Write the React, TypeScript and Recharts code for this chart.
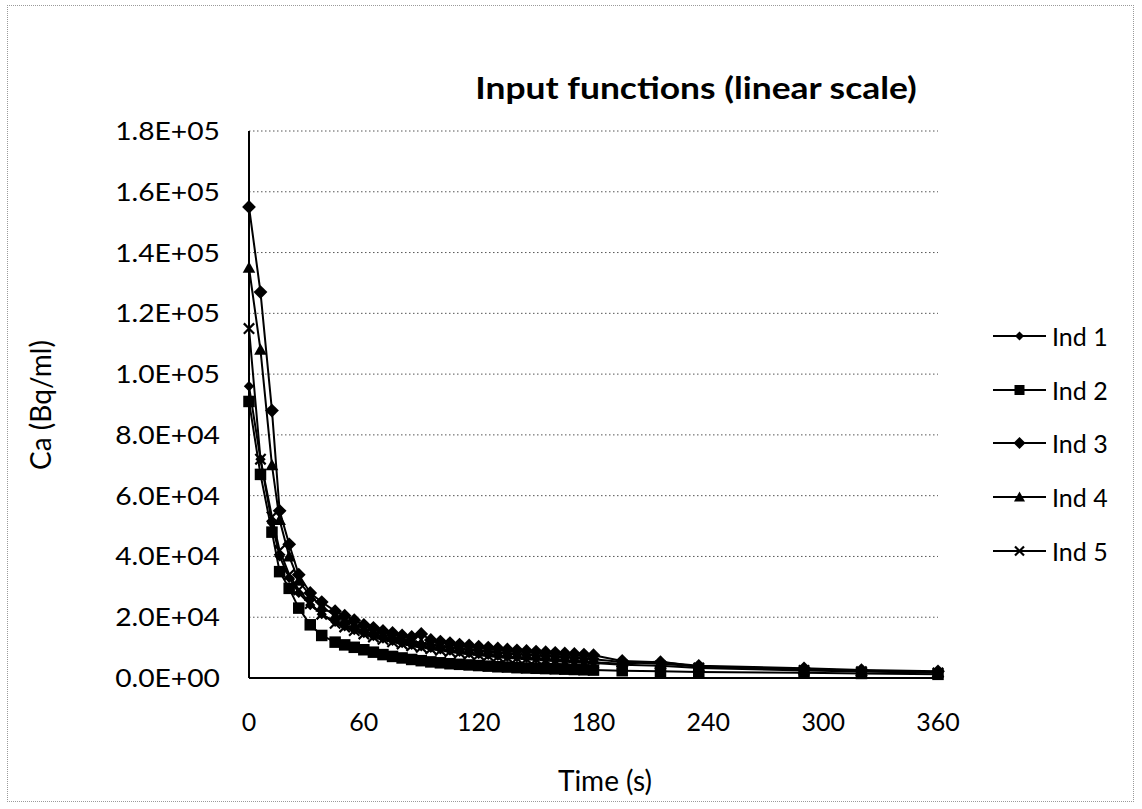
import React from 'react';
import { LineChart, Line, XAxis, YAxis, CartesianGrid } from 'recharts';

// Time points (s)
const times = [0, 6, 12, 16, 21, 26, 32, 38, 45, 50, 55, 60, 65, 70, 75, 80, 85, 90, 95, 100, 105, 110, 115, 120, 125, 130, 135, 140, 145, 150, 155, 160, 165, 170, 175, 180, 195, 215, 235, 290, 320, 360];

// Activity concentration, in thousands of Bq/ml
const ind1 = [96, 72, 51, 40, 33, 28, 24, 21, 18.5, 17, 15.8, 14.8, 13.8, 13, 12.2, 11.5, 10.9, 10.4, 9.9, 9.4, 9.0, 8.6, 8.2, 7.9, 7.6, 7.3, 7.0, 6.8, 6.6, 6.4, 6.2, 6.0, 5.8, 5.6, 5.4, 5.2, 4.7, 5.4, 3.6, 2.8, 2.3, 1.9];
const ind2 = [91, 67, 48, 35, 29.5, 23, 17.5, 14, 11.8, 10.9, 10.1, 9.3, 8.5, 7.7, 7.1, 6.6, 6.1, 5.7, 5.3, 5.0, 4.7, 4.5, 4.3, 4.1, 3.9, 3.7, 3.6, 3.4, 3.3, 3.2, 3.1, 3.0, 2.9, 2.8, 2.7, 2.6, 2.4, 2.2, 2.0, 1.7, 1.5, 1.2];
const ind3 = [155, 127, 88, 55, 44, 34, 28, 25, 22, 20.5, 19, 17.5, 16.5, 15.5, 14.8, 14, 13.5, 14.5, 12.5, 12, 11.5, 11, 10.7, 10.3, 10, 9.7, 9.4, 9.1, 8.9, 8.7, 8.5, 8.3, 8.1, 7.9, 7.7, 7.5, 5.6, 5.2, 4.0, 3.2, 2.6, 2.2];
const ind4 = [135, 108, 70, 52, 40, 32, 27, 23.5, 20.5, 19, 17.5, 16.3, 15.2, 14.3, 13.5, 12.8, 12.2, 11.6, 11.1, 10.6, 10.1, 9.7, 9.3, 9.0, 8.7, 8.4, 8.1, 7.8, 7.6, 7.4, 7.2, 7.0, 6.8, 6.6, 6.4, 6.2, 5.3, 4.7, 3.8, 3.0, 2.4, 2.0];
const ind5 = [115, 72, 53, 42, 34, 29, 24.5, 21, 18, 16.8, 15.6, 14.5, 13.5, 12.7, 11.9, 11.2, 10.6, 10.1, 9.6, 9.1, 8.7, 8.3, 7.9, 7.6, 7.3, 7.0, 6.7, 6.5, 6.3, 6.1, 5.9, 5.7, 5.5, 5.3, 5.1, 4.9, 4.4, 4.0, 3.3, 2.5, 2.1, 1.7];

const seriesNames = ['Ind 1', 'Ind 2', 'Ind 3', 'Ind 4', 'Ind 5'];
const seriesKeys = ['ind1', 'ind2', 'ind3', 'ind4', 'ind5'];
const seriesMarkers = ['smallDiamond', 'square', 'diamond', 'triangle', 'cross'];

const xTicks = [0, 60, 120, 180, 240, 300, 360];
const yTicks = [0, 20000, 40000, 60000, 80000, 100000, 120000, 140000, 160000, 180000];

const UNIT = 1000;
const seriesValues = [ind1, ind2, ind3, ind4, ind5];
const rows = times.map((t, i) => {
  const r: any = { t };
  seriesKeys.forEach((k, s) => {
    r[k] = seriesValues[s][i] * UNIT;
  });
  return r;
});

const FONT = 'Lato, "Open Sans", sans-serif';

function fmtExp(v: number): string {
  const [m, e] = v.toExponential(1).split('e');
  const sign = e.startsWith('-') ? '-' : '+';
  const digits = e.replace(/[+-]/, '').padStart(2, '0');
  return `${m}E${sign}${digits}`;
}

function Marker({ kind, cx, cy, big }: { kind: string; cx: number; cy: number; big?: boolean }) {
  const k = big ? 1.15 : 1;
  switch (kind) {
    case 'smallDiamond': {
      const r = 4.5 * k;
      return <path d={`M${cx},${cy - r}L${cx + r},${cy}L${cx},${cy + r}L${cx - r},${cy}Z`} fill="#000" />;
    }
    case 'square': {
      const h = 5 * k;
      return <rect x={cx - h} y={cy - h} width={2 * h} height={2 * h} fill="#000" />;
    }
    case 'diamond': {
      const r = 6 * k;
      return <path d={`M${cx},${cy - r}L${cx + r},${cy}L${cx},${cy + r}L${cx - r},${cy}Z`} fill="#000" />;
    }
    case 'triangle': {
      const r = 5.5 * k;
      return <path d={`M${cx},${cy - r}L${cx + r},${cy + r * 0.8}L${cx - r},${cy + r * 0.8}Z`} fill="#000" />;
    }
    case 'cross':
    default: {
      const r = 4.5 * k;
      return (
        <path
          d={`M${cx - r},${cy - r}L${cx + r},${cy + r}M${cx - r},${cy + r}L${cx + r},${cy - r}`}
          stroke="#000"
          strokeWidth={2.2}
          fill="none"
        />
      );
    }
  }
}

function makeDot(kind: string) {
  return (props: any) => {
    const { cx, cy, index } = props;
    if (cx == null || cy == null) return <g key={`d-${kind}-${index}`} />;
    return (
      <g key={`d-${kind}-${index}`}>
        <Marker kind={kind} cx={cx} cy={cy} big />
      </g>
    );
  };
}

function YTick(props: any) {
  const { x, y, payload } = props;
  return (
    <text
      x={x}
      y={y}
      dy="0.36em"
      textAnchor="end"
      fill="#000"
      fontSize={25}
      fontFamily={FONT}
      transform={`translate(${x},0) scale(1.13,1) translate(${-x},0)`}
    >
      {fmtExp(payload.value)}
    </text>
  );
}

function ChartLegend() {
  return (
    <div style={{ position: 'absolute', left: 990, top: 309, fontFamily: FONT }}>
      {seriesNames.map((name, i) => (
        <div key={`leg-${i}`} style={{ height: 53.8, display: 'flex', alignItems: 'center' }}>
          <svg width={58} height={20} style={{ display: 'block' }}>
            <line x1={3} y1={10} x2={56} y2={10} stroke="#000" strokeWidth={2} />
            <Marker kind={seriesMarkers[i]} cx={29.5} cy={10} />
          </svg>
          <span style={{ fontSize: 25, color: '#000', marginLeft: 4, whiteSpace: 'nowrap' }}>{name}</span>
        </div>
      ))}
    </div>
  );
}

export default function App() {
  return (
    <div style={{ position: 'absolute', left: 0, top: 0, width: 1142, height: 809, background: '#fff', fontFamily: FONT }}>
      <div
        style={{
          position: 'absolute',
          left: 7,
          top: 5,
          width: 1127,
          height: 797,
          border: '1px dotted #9a9a9a',
          boxSizing: 'border-box',
        }}
      />
      <LineChart width={1142} height={809} data={rows} margin={{ top: 131, right: 204, bottom: 91, left: 149 }}>
        <CartesianGrid vertical={false} stroke="#555" strokeDasharray="1.5 2.5" />
        <XAxis
          dataKey="t"
          type="number"
          domain={[0, 360]}
          ticks={xTicks}
          height={40}
          axisLine={{ stroke: '#000', strokeWidth: 2 }}
          tickLine={false}
          tickSize={0}
          tickMargin={35}
          tick={{ fill: '#000', fontSize: 25, fontFamily: FONT }}
          interval={0}
        />
        <YAxis
          type="number"
          domain={[0, 180000]}
          ticks={yTicks}
          width={100}
          axisLine={{ stroke: '#000', strokeWidth: 2 }}
          tickLine={false}
          tickSize={0}
          tickMargin={29}
          tickFormatter={fmtExp}
          tick={<YTick />}
          interval={0}
        />
        {seriesKeys.map((k, i) => (
          <Line
            key={k}
            type="linear"
            dataKey={k}
            name={seriesNames[i]}
            stroke="#000"
            strokeWidth={2}
            dot={makeDot(seriesMarkers[i])}
            activeDot={false}
            isAnimationActive={false}
          />
        ))}
      </LineChart>
      <ChartLegend />
      <div
        style={{
          position: 'absolute',
          left: 696,
          top: 87,
          transform: 'translate(-50%, -50%) scale(1.18, 1)',
          fontSize: 30,
          fontWeight: 'bold',
          whiteSpace: 'nowrap',
          color: '#000',
        }}
      >
        Input functions (linear scale)
      </div>
      <div
        style={{
          position: 'absolute',
          left: 40,
          top: 405,
          transform: 'translate(-50%, -50%) rotate(-90deg)',
          fontSize: 28,
          whiteSpace: 'nowrap',
          color: '#000',
        }}
      >
        Ca (Bq/ml)
      </div>
      <div
        style={{
          position: 'absolute',
          left: 605,
          top: 780,
          transform: 'translate(-50%, -50%)',
          fontSize: 28,
          whiteSpace: 'nowrap',
          color: '#000',
        }}
      >
        Time (s)
      </div>
    </div>
  );
}
